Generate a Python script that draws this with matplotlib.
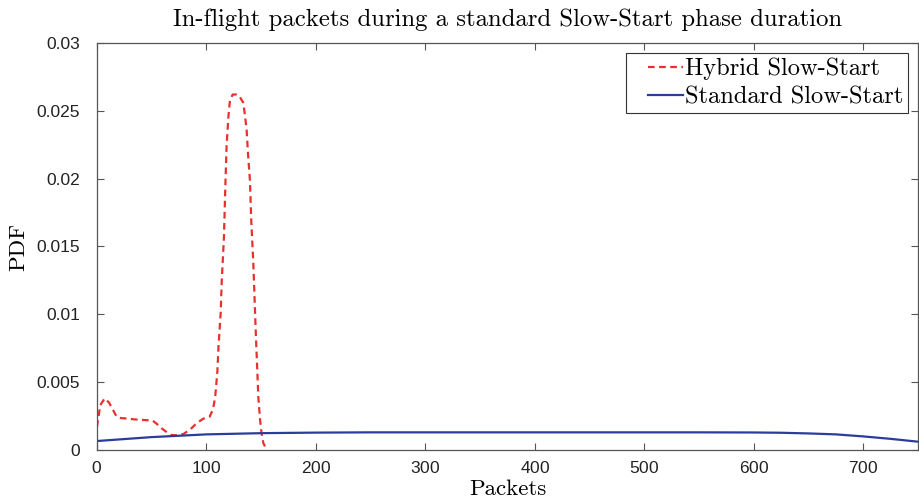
import matplotlib
matplotlib.use('Agg')
import matplotlib.pyplot as plt
from matplotlib.legend_handler import HandlerLine2D

plt.rcParams['axes.formatter.use_mathtext'] = True

# Hybrid Slow-Start
hybrid_x = [0, 3, 7, 11, 15, 18, 22, 27, 35, 45, 51, 55, 59, 64, 68, 74, 79, 85, 91, 97, 103,
            106, 108, 110, 111, 113, 114, 116, 117, 118.4, 120, 121.5, 124, 127.6, 130, 133.6,
            135, 136.7, 138, 139.7, 141, 142.8, 145, 147.4, 149, 150.4, 152, 155]
hybrid_y = [0.0017, 0.0033, 0.0038, 0.0035, 0.0029, 0.00245, 0.00235, 0.00232, 0.00225, 0.0022,
            0.00216, 0.0019, 0.0016, 0.0013, 0.0011, 0.00108, 0.00118, 0.0015, 0.00197, 0.0023,
            0.00246, 0.003, 0.0039, 0.0058, 0.0076, 0.0101, 0.0125, 0.0157, 0.0187, 0.0224,
            0.0245, 0.0258, 0.0262, 0.0262, 0.0261, 0.0256, 0.0248, 0.0236, 0.0218, 0.0199,
            0.0168, 0.0138, 0.0088, 0.0039, 0.0022, 0.0012, 0.0005, 0.0]

# Standard Slow-Start
standard_x = [0, 50, 100, 150, 200, 250, 300, 350, 400, 450, 500, 550, 600, 625, 650, 675,
              700, 725, 750]
standard_y = [0.00066, 0.00095, 0.00115, 0.00124, 0.00128, 0.0013, 0.0013, 0.0013, 0.0013,
              0.0013, 0.0013, 0.0013, 0.00129, 0.00127, 0.00122, 0.00115, 0.00100, 0.00082,
              0.00061]

fig = plt.figure(figsize=(9.19, 5.03), dpi=100)
ax = fig.add_axes([0.1055, 0.1054, 0.8935, 0.8091])

ax.plot(hybrid_x, hybrid_y, '--', dashes=(3, 2), color='#e6312e', lw=1.6,
        label='Hybrid Slow-Start')
ax.plot(standard_x, standard_y, '-', color='#2b3c9c', lw=1.6, label='Standard Slow-Start')

ax.set_xlim(0, 750)
ax.set_ylim(0, 0.03)
ax.set_xticks([0, 100, 200, 300, 400, 500, 600, 700])
ax.set_yticks([0, 0.005, 0.01, 0.015, 0.02, 0.025, 0.03])
ax.set_yticklabels(['0', '0.005', '0.01', '0.015', '0.02', '0.025', '0.03'])
ax.tick_params(direction='in', top=True, right=True, length=5, width=0.8,
               color='#555555', labelsize=12.5, labelcolor='#222222')
ax.tick_params(axis='x', pad=7)
ax.tick_params(axis='y', pad=12)
for lab in ax.get_xticklabels() + ax.get_yticklabels():
    lab.set_family('Liberation Sans')
for s in ax.spines.values():
    s.set_color('#555555')
    s.set_linewidth(0.9)

ax.set_title('In-flight packets during a standard Slow-Start phase duration',
             family='cmr10', fontsize=17.8, pad=12)
ax.set_xlabel('Packets', family='cmr10', fontsize=16.5, labelpad=3)
ax.set_ylabel('PDF', family='cmr10', fontsize=16.5, labelpad=6)

# MATLAB-like legend: icon sits with a gap on its left
handler = HandlerLine2D(xpad=0.7)
leg = ax.legend(loc='upper right', prop={'family': 'cmr10', 'size': 17.6}, fancybox=False,
                edgecolor='#333333', framealpha=1, handlelength=2.1, handletextpad=0.1,
                borderpad=0.2, labelspacing=0.25, borderaxespad=0.4,
                handler_map={plt.Line2D: handler})
leg.get_frame().set_linewidth(0.8)

fig.savefig('out.png', dpi=100)
